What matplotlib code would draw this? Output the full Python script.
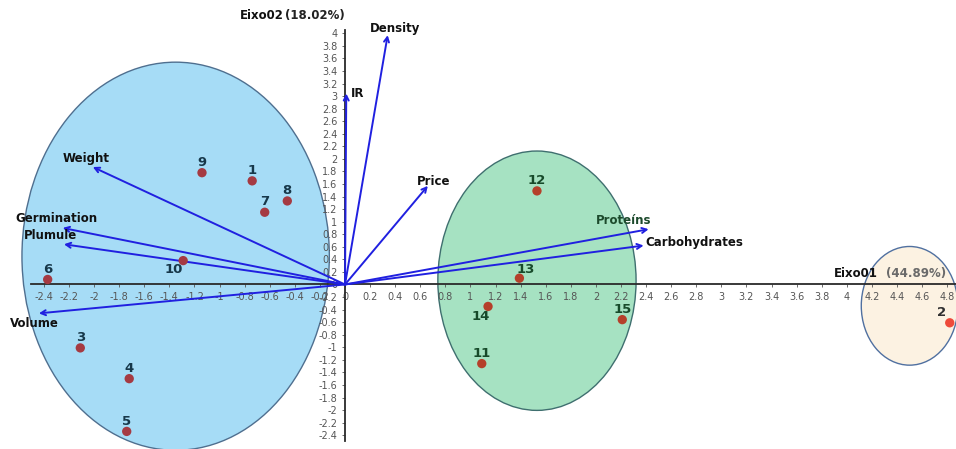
import matplotlib
matplotlib.use('Agg')
import matplotlib.pyplot as plt
from matplotlib.patches import Ellipse
from matplotlib.ticker import FuncFormatter

# observations (scores)
obs_labels = ['1', '2', '3', '4', '5', '6', '7', '8', '9', '10', '11', '12', '13', '14', '15']
obs_x = [-0.74, 4.82, -2.11, -1.72, -1.74, -2.37, -0.64, -0.46, -1.14, -1.29, 1.09, 1.53, 1.39, 1.14, 2.21]
obs_y = [1.65, -0.61, -1.01, -1.50, -2.34, 0.08, 1.15, 1.33, 1.78, 0.38, -1.26, 1.49, 0.10, -0.35, -0.56]
obs_group = [0, 2, 0, 0, 0, 0, 0, 0, 0, 0, 1, 1, 1, 1, 1]

# variables (loadings)
var_names = ['Density', 'IR', 'Price', 'Weight', 'Germination', 'Plumule', 'Volume', 'Proteíns', 'Carbohydrates']
var_x = [0.34, 0.01, 0.66, -2.01, -2.25, -2.24, -2.44, 2.42, 2.38]
var_y = [3.97, 3.04, 1.57, 1.87, 0.90, 0.64, -0.46, 0.88, 0.62]

# groups (ellipses)
group_cx = [-1.35, 1.53, 4.50]
group_cy = [0.45, 0.06, -0.34]
group_w = [2.45, 1.58, 0.77]
group_h = [6.18, 4.13, 1.89]

axis1_title = ('Eixo01', '(44.89%)')
axis2_title = ('Eixo02', '(18.02%)')

group_fill = ['#a6dcf6', '#a6e2c2', '#fcf2e2']
group_edge = ['#4f6f8f', '#3f6f6f', '#5070a0']
point_col = ['#a53a42', '#b5402a', '#ee4a3a']
label_col = ['#17384a', '#174a2a', '#303030']


def draw_biplot():
    fig = plt.figure(figsize=(9.56, 4.49), dpi=100)
    ax = fig.add_axes([0, 0, 1, 1])
    ax.set_xlim(-2.75, 4.87)
    ax.set_ylim(-2.62, 4.53)

    for i in range(len(group_cx)):
        ax.add_patch(Ellipse((group_cx[i], group_cy[i]), group_w[i], group_h[i],
                             facecolor=group_fill[i], edgecolor=group_edge[i], lw=1.0, zorder=1))

    for s in ['top', 'right']:
        ax.spines[s].set_visible(False)
    ax.spines['left'].set_position(('data', 0))
    ax.spines['bottom'].set_position(('data', 0))
    ax.spines['left'].set_bounds(-2.5, 4.05)
    ax.spines['bottom'].set_bounds(-2.5, 4.87)
    for s in ['left', 'bottom']:
        ax.spines[s].set_color('#2a2a2a')
        ax.spines[s].set_linewidth(1.3)
        ax.spines[s].set_zorder(2)

    fmt = FuncFormatter(lambda v, p: f'{round(v, 1):g}' if abs(v) > 1e-9 else '0')
    ax.xaxis.set_major_formatter(fmt)
    ax.yaxis.set_major_formatter(fmt)
    ax.set_xticks([t / 10 for t in range(-24, 49, 2)])
    ax.set_yticks([t / 10 for t in range(-24, 41, 2)])
    ax.tick_params(axis='both', labelsize=7, colors='#555555', length=2.5, width=0.6, pad=3)

    for i in range(len(var_names)):
        ax.annotate('', xy=(var_x[i], var_y[i]), xytext=(0, 0),
                    arrowprops=dict(arrowstyle='->,head_length=0.35,head_width=0.18',
                                    color='#2020e0', lw=1.4, shrinkA=0, shrinkB=0), zorder=3)

    var_off = {
        'Density': (5, 4.5, 'center'), 'IR': (3, 0, 'left'), 'Price': (4, 3, 'center'),
        'Weight': (-5, 6, 'center'), 'Germination': (-4.5, 6.5, 'center'), 'Plumule': (-10, 6, 'center'),
        'Volume': (-3, -7.5, 'center'), 'Proteíns': (-18, 6, 'center'), 'Carbohydrates': (1, 2, 'left'),
    }
    for i, name in enumerate(var_names):
        dx, dy, ha = var_off[name]
        col = '#1c4a2c' if name == 'Proteíns' else '#111111'
        ax.annotate(name, (var_x[i], var_y[i]), xytext=(dx, dy), textcoords='offset points',
                    ha=ha, va='center', fontsize=8.5, fontweight='bold', color=col, zorder=5)

    obs_off = {'10': (-6.5, -6.5), '14': (-5, -7.5), '13': (4.5, 6), '2': (-6, 7.5)}
    for i, lab in enumerate(obs_labels):
        g = obs_group[i]
        ax.scatter(obs_x[i], obs_y[i], s=45, color=point_col[g], zorder=4, edgecolors='none')
        dx, dy = obs_off.get(lab, (0, 7.5))
        ax.annotate(lab, (obs_x[i], obs_y[i]), xytext=(dx, dy), textcoords='offset points',
                    ha='center', va='center', fontsize=9.5, fontweight='bold', color=label_col[g], zorder=5)

    ax.text(4.25, 0.17, axis1_title[0], fontsize=8.5, fontweight='bold', color='#111111', ha='right', va='center')
    ax.text(4.31, 0.17, axis1_title[1], fontsize=8.5, fontweight='bold', color='#6a6a6a', ha='left', va='center')
    ax.text(-0.49, 4.29, axis2_title[0], fontsize=8.5, fontweight='bold', color='#111111', ha='right', va='center')
    ax.text(0.0, 4.29, axis2_title[1], fontsize=8.5, fontweight='bold', color='#222222', ha='right', va='center')

    fig.savefig('out.png', dpi=100)


def main():
    draw_biplot()


if __name__ == '__main__':
    main()
